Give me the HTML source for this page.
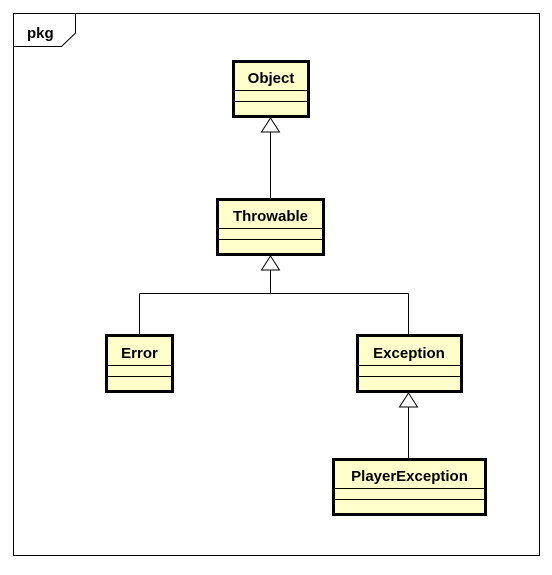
<!DOCTYPE html>
<html><head><style>
html,body{margin:0;padding:0;background:#fff;}
text{font-family:"Liberation Sans",sans-serif;font-weight:bold;font-size:15px;fill:#000;}
</style></head><body>
<svg width="552" height="570" xmlns="http://www.w3.org/2000/svg">
<rect x="13.5" y="13.5" width="526" height="542" fill="#fff" stroke="#000" stroke-width="1"/>
<polyline points="13.5,46.5 61.5,46.5 75.5,33 75.5,13.5" fill="none" stroke="#000"/>
<text x="27" y="38" style="font-size:15px">pkg</text>
<g stroke="#000" fill="none" stroke-width="1">
<line x1="270.5" y1="132" x2="270.5" y2="198"/>
<line x1="270.5" y1="270" x2="270.5" y2="293.5"/>
<line x1="139.5" y1="293.5" x2="408.5" y2="293.5"/>
<line x1="139.5" y1="293.5" x2="139.5" y2="334"/>
<line x1="408.5" y1="293.5" x2="408.5" y2="334"/>
<line x1="408.5" y1="407" x2="408.5" y2="458"/>
</g>
<g fill="#fff" stroke="#000">
<polygon points="270.5,118 261.5,132 279.5,132"/>
<polygon points="270.5,256 261.5,270 279.5,270"/>
<polygon points="408.5,393 399.5,407 417.5,407"/>
</g>
<g fill="#ffffcc" stroke="#000" stroke-width="3">
<rect x="233.5" y="61.5" width="75" height="55"/>
<rect x="217.5" y="199.5" width="106" height="55"/>
<rect x="106.5" y="335.5" width="66" height="56"/>
<rect x="357.5" y="335.5" width="104" height="56"/>
<rect x="333.5" y="459.5" width="152" height="55"/>
</g>
<g stroke="#000" stroke-width="1">
<line x1="233" y1="90.5" x2="309" y2="90.5"/><line x1="233" y1="101.5" x2="309" y2="101.5"/>
<line x1="217" y1="228.5" x2="324" y2="228.5"/><line x1="217" y1="239.5" x2="324" y2="239.5"/>
<line x1="106" y1="365.5" x2="173" y2="365.5"/><line x1="106" y1="376.5" x2="173" y2="376.5"/>
<line x1="357" y1="365.5" x2="462" y2="365.5"/><line x1="357" y1="376.5" x2="462" y2="376.5"/>
<line x1="333" y1="488.5" x2="486" y2="488.5"/><line x1="333" y1="499.5" x2="486" y2="499.5"/>
</g>
<g text-anchor="middle">
<text x="271" y="83">Object</text>
<text x="270.5" y="221">Throwable</text>
<text x="139.5" y="358">Error</text>
<text x="409" y="358">Exception</text>
<text x="409.5" y="481">PlayerException</text>
</g>
</svg>
</body></html>
